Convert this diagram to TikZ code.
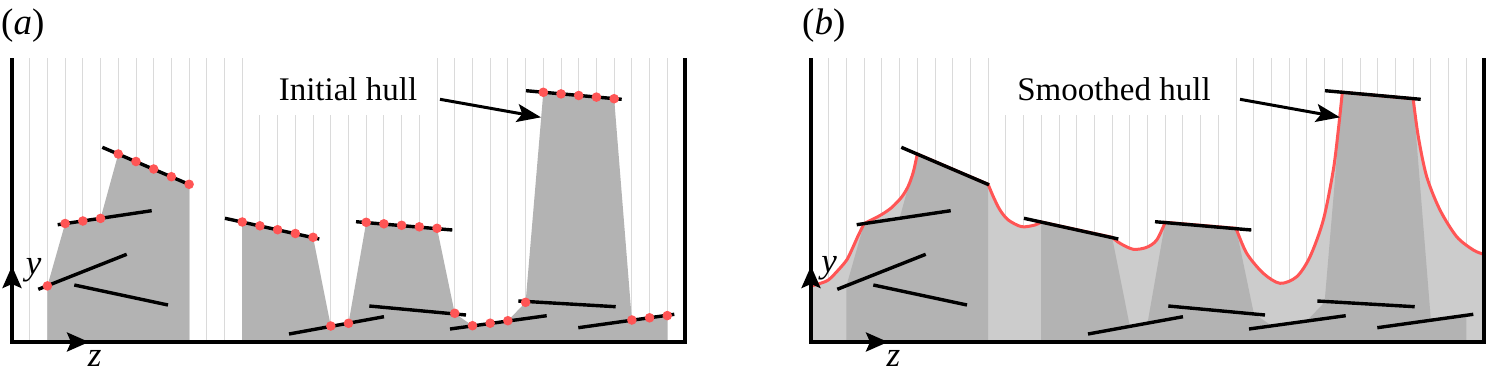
\documentclass[tikz,border=0pt]{standalone}
\usepackage{fontspec}
\setmainfont{Liberation Serif}
\usetikzlibrary{arrows.meta}
\definecolor{hulldark}{RGB}{179,179,179}
\definecolor{hulllight}{RGB}{204,204,204}
\definecolor{dotred}{RGB}{255,85,85}
\definecolor{gridgray}{RGB}{218,218,218}
\newcommand\mygrid{\foreach \k in {1,...,37}{\draw[gridline] ({12+17.71*\k},58) -- ({12+17.71*\k},342);}}
\newcommand\myhull{%
\fill[hulldark] (47.42,342) -- (47.42,285.9) -- (65.13,223.5) -- (82.84,221.0) -- (100.55,218.4) -- (118.26,154.0) -- (135.97,161.5) -- (153.68,169.0) -- (171.39,176.7) -- (189.10,184.3) -- (189.10,342) -- cycle;
\fill[hulldark] (242.23,342) -- (242.23,222.0) -- (259.94,225.8) -- (277.65,229.7) -- (295.36,233.5) -- (313.07,237.3) -- (330.78,326.0) -- (348.49,323.3) -- (366.20,222.3) -- (383.91,223.8) -- (401.62,225.3) -- (419.33,226.8) -- (437.04,228.3) -- (454.75,313.3) -- (472.46,325.7) -- (490.17,323.2) -- (507.88,320.7) -- (525.59,302.3) -- (543.30,92.3) -- (561.01,93.9) -- (578.72,95.5) -- (596.43,97.1) -- (614.14,98.7) -- (631.85,320.0) -- (649.56,317.8) -- (667.27,315.6) -- (667.27,342) -- cycle;}
\newcommand\mysegs{%
\draw[seg] (38.3,289.3) -- (126.7,254.3);
\draw[seg] (74.3,285) -- (168,305);
\draw[seg] (57.7,224.7) -- (151.7,210.7);
\draw[seg] (102.3,147.3) -- (190,184.8);
\draw[seg] (225,218.3) -- (319.3,239);
\draw[seg] (356,221.7) -- (452.3,230);
\draw[seg] (289,334) -- (384,316.7);
\draw[seg] (369.3,306) -- (466,315);
\draw[seg] (450,329) -- (546.7,315.7);
\draw[seg] (518.3,301) -- (615.7,306.7);
\draw[seg] (526,90.7) -- (621.7,99.3);
\draw[seg] (578.3,327.7) -- (674.3,314.3);}
\newcommand\myframe{%
\draw[frame] (12,58) -- (12,342) -- (685,342) -- (685,58);
\draw[axarrow] (12,300) -- (12,266);
\draw[axarrow] (50,342) -- (89,342);}
\newcommand\mycurve{(12,286) -- plot[smooth,tension=0.5] coordinates {(12,286) (19.3,284) (29.3,280) (39.3,270) (47.7,260) (52.7,250) (59,236) (65.13,223.5)}
 -- plot[smooth,tension=0.5] coordinates {(65.13,223.5) (72.7,219.8) (82.7,214.5) (92.7,207.5) (102.7,197) (109.3,186) (114.3,172) (118.26,154)}
 -- (189.10,184.3)
 -- plot[smooth,tension=0.5] coordinates {(189.1,184.3) (194.3,196.7) (201,210) (209.3,220) (222.7,226.7) (236,225) (242.23,222)}
 -- (313.07,237.3)
 -- plot[smooth,tension=0.5] coordinates {(313.07,237.3) (321,243.3) (334.3,249.3) (347.7,247.3) (357.7,240) (366.2,222.3)}
 -- (437.04,228.3)
 -- plot[smooth,tension=0.5] coordinates {(437.04,228.3) (447.7,253.3) (464.3,273.3) (481,283.3) (497.7,276.7) (511,256.7) (524.3,220) (534.3,170) (539.3,130) (543.3,92.3)}
 -- (614.14,98.7)
 -- plot[smooth,tension=0.5] coordinates {(614.14,98.7) (619.3,136.7) (627.7,176.7) (641,210) (657.7,236.7) (674.3,250) (684,254)}}
\begin{document}
\begin{tikzpicture}[x=1pt,y=-1pt,
  gridline/.style={draw=gridgray,line width=0.9pt},
  seg/.style={line width=3.4pt,black},
  frame/.style={line width=3.4pt,black,line join=miter},
  axarrow/.style={line width=3.4pt,-{Stealth[length=22pt,width=19pt,inset=4pt]}},
  annarrow/.style={line width=3pt,-{Stealth[length=24pt,width=18pt,inset=5pt]}},
  smoothline/.style={draw=dotred,line width=3pt},
  panellab/.style={inner sep=0pt,font=\fontsize{37pt}{37pt}\selectfont},
  axlab/.style={inner sep=0pt,font=\fontsize{35pt}{35pt}\selectfont},
  hulllab/.style={inner sep=0pt,font=\fontsize{33pt}{33pt}\selectfont}]
\useasboundingbox (0,0) rectangle (1486,372);
% panel (a)
\begin{scope}
  \mygrid
  \fill[white] (252,55) rectangle (428,115);
  \myhull
  \mysegs
  \foreach \k/\yy in {2/285.9,3/223.5,4/221.0,5/218.4,6/154.0,7/161.5,8/169.0,9/176.7,10/184.3,13/222.0,14/225.8,15/229.7,16/233.5,17/237.3,18/326.0,19/323.3,20/222.3,21/223.8,22/225.3,23/226.8,24/228.3,25/313.3,26/325.7,27/323.2,28/320.7,29/302.3,30/92.3,31/93.9,32/95.5,33/97.1,34/98.7,35/320.0,36/317.8,37/315.6}
    {\fill[dotred] ({12+17.71*\k},\yy) circle[radius=4.8pt];}
  \myframe
\end{scope}
\node[panellab,anchor=base west] (pa) at (1,34.5) {(\textit{a})};
\node[axlab,anchor=base] (ya) at (33.7,274.5) {\textit{y}};
\node[axlab,anchor=base] (za) at (94.7,366.5) {\textit{z}};
\node[hulllab,anchor=base] (ia) at (348,100.7) {Initial hull};
\coordinate (ias) at (440,99.3);
\coordinate (iat) at (541,117.3);
\draw[annarrow] (ias) -- (iat);
% panel (b)
\begin{scope}[shift={(799,0)}]
  \mygrid
  \fill[white] (198,55) rectangle (429,115);
  \fill[hulllight] (12,342) -- \mycurve -- (684,342) -- cycle;
  \myhull
  \draw[smoothline] \mycurve;
  \mysegs
  \myframe
\end{scope}
\node[panellab,anchor=base west] (pb) at (802,34.5) {(\textit{b})};
\node[axlab,anchor=base] (yb) at (829.2,272.5) {\textit{y}};
\node[axlab,anchor=base] (zb) at (893.5,366.5) {\textit{z}};
\node[hulllab,anchor=base] (sb) at (1114,100.7) {Smoothed hull};
\coordinate (sbs) at (1240,99.3);
\coordinate (sbt) at (1340,117.3);
\draw[annarrow] (sbs) -- (sbt);
\end{tikzpicture}
\end{document}
